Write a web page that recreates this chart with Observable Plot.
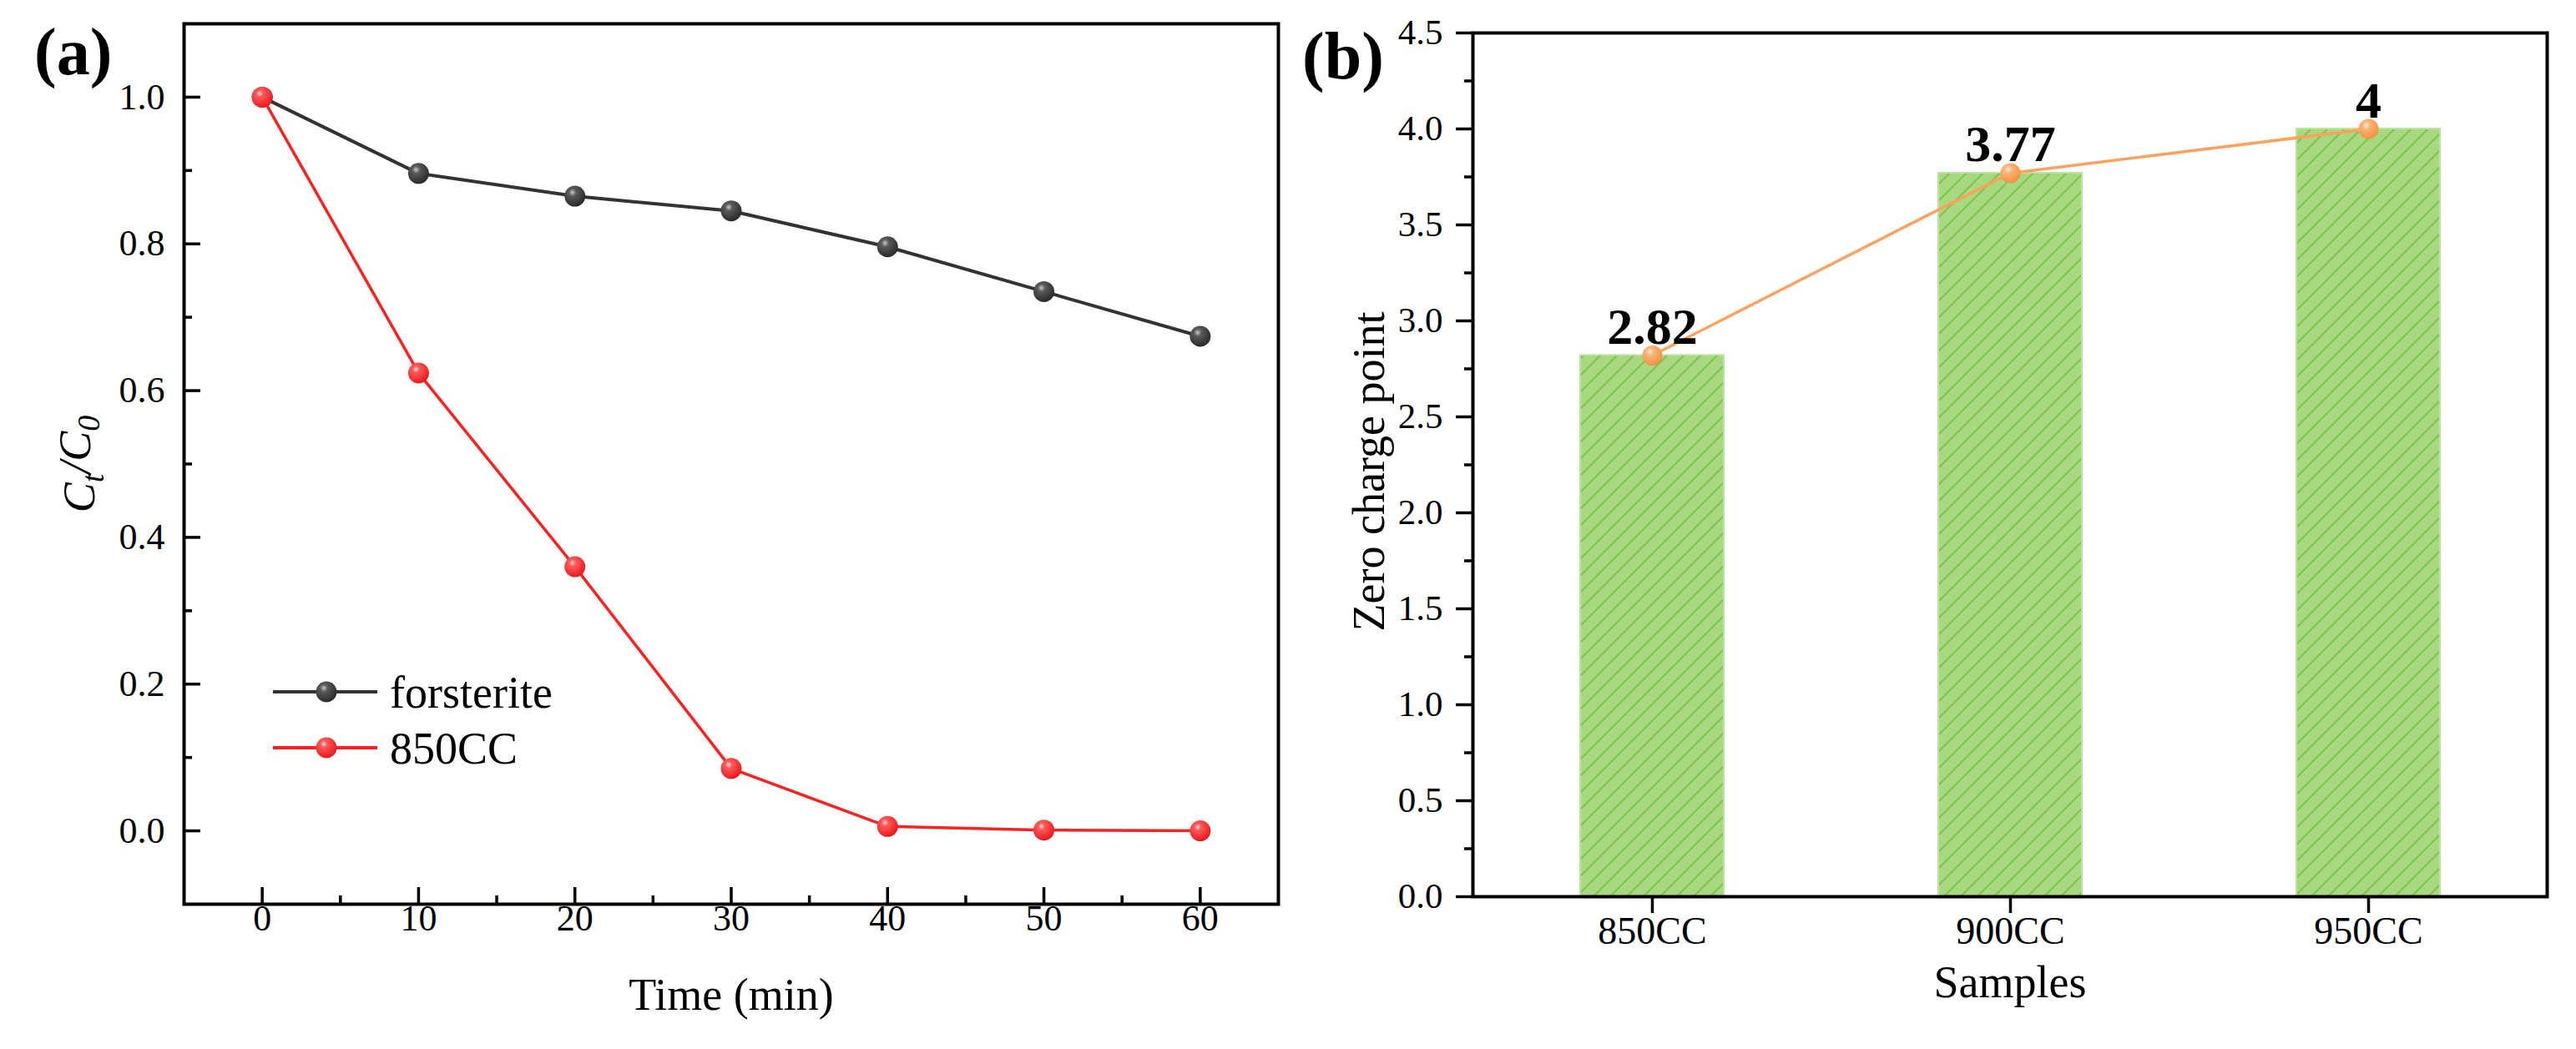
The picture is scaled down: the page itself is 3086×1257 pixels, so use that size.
<!DOCTYPE html>
<html><head><meta charset="utf-8">
<script src="https://cdn.jsdelivr.net/npm/d3@7"></script>
<script src="https://cdn.jsdelivr.net/npm/@observablehq/plot@0.6"></script>
<style>
html,body{margin:0;padding:0;background:#fff;overflow:hidden;width:3086px;height:1257px}
#wrap{position:relative;width:3086px;height:1257px}
.panel{position:absolute;top:0}
.panel svg{display:block}
.tag{position:absolute;font-family:"Liberation Serif","Times New Roman",serif;font-weight:bold;line-height:1;color:#000}
</style></head>
<body>
<svg width="0" height="0" style="position:absolute">
  <defs>
    <radialGradient id="ballRed" cx="0.38" cy="0.32" r="0.72">
      <stop offset="0" stop-color="#ffe0e0"/>
      <stop offset="0.22" stop-color="#ff5a5a"/>
      <stop offset="1" stop-color="#e8141a"/>
    </radialGradient>
    <radialGradient id="ballGray" cx="0.38" cy="0.32" r="0.72">
      <stop offset="0" stop-color="#c8c8c8"/>
      <stop offset="0.25" stop-color="#5a5a5a"/>
      <stop offset="1" stop-color="#262626"/>
    </radialGradient>
    <radialGradient id="ballOrange" cx="0.38" cy="0.32" r="0.72">
      <stop offset="0" stop-color="#fff0e0"/>
      <stop offset="0.25" stop-color="#fbb57a"/>
      <stop offset="1" stop-color="#f38f3c"/>
    </radialGradient>
    <pattern id="hatch" patternUnits="userSpaceOnUse" width="20" height="20">
      <rect width="20" height="20" fill="#a8d880"/>
      <path d="M-5,5 L5,-5 M0,20 L20,0 M15,25 L25,15" stroke="#78c246" stroke-width="1.8"/>
    </pattern>
  </defs>
</svg>
<div id="wrap">
  <div id="pa" class="panel" style="left:0"></div>
  <div id="pb" class="panel" style="left:1543px"></div>
  <div class="tag" style="left:41px;top:22px;font-size:80px">(a)</div>
  <div class="tag" style="left:1560px;top:27px;font-size:80px">(b)</div>
</div>
<script>
// ---------- data ----------
const times = [0, 10, 20, 30, 40, 50, 60];
const forsterite = [1.0, 0.896, 0.865, 0.845, 0.796, 0.735, 0.674];
const cc850 = [1.0, 0.624, 0.360, 0.085, 0.006, 0.001, 0.0];
const seriesNames = ["forsterite", "850CC"];
const xTicksA = [0, 10, 20, 30, 40, 50, 60];
const xMinorA = [5, 15, 25, 35, 45, 55];
const yTicksA = [0.0, 0.2, 0.4, 0.6, 0.8, 1.0];
const yMinorA = [0.1, 0.3, 0.5, 0.7, 0.9];

const samples = ["850CC", "900CC", "950CC"];
const zcp = [2.82, 3.77, 4];
const yTicksB = [0, 0.5, 1.0, 1.5, 2.0, 2.5, 3.0, 3.5, 4.0, 4.5];
const yMinorB = [0.25, 0.75, 1.25, 1.75, 2.25, 2.75, 3.25, 3.75, 4.25];

// ---------- style ----------
const FONT = '"Liberation Serif","Times New Roman",serif';
const W = 1543, H = 1257;
const colGray = "#333333", colRed = "#ff2020", colOrange = "#fba35e";

// ---------- panel a ----------
const A = {ml: 220, mt: 28, mr: 12, mb: 174};
const fwA = W - A.ml - A.mr, fhA = H - A.mt - A.mb;
const plotA = Plot.plot({
  width: W, height: H,
  marginLeft: A.ml, marginTop: A.mt, marginRight: A.mr, marginBottom: A.mb,
  style: {fontFamily: FONT, fontSize: "44px", color: "#000", background: "transparent", overflow: "visible"},
  x: {domain: [-5, 65]},
  y: {domain: [-0.1, 1.1]},
  marks: [
    Plot.tickX(xTicksA, {x: d => d, stroke: "#000", strokeWidth: 3.5, insetTop: fhA - 20}),
    Plot.tickX(xMinorA, {x: d => d, stroke: "#000", strokeWidth: 3.5, insetTop: fhA - 10}),
    Plot.tickY(yTicksA, {y: d => d, stroke: "#000", strokeWidth: 3.5, insetRight: fwA - 20}),
    Plot.tickY(yMinorA, {y: d => d, stroke: "#000", strokeWidth: 3.5, insetRight: fwA - 10}),
    Plot.frame({stroke: "#000", strokeWidth: 4}),
    Plot.axisX({ticks: xTicksA, tickSize: 0, tickPadding: 0, fontSize: 44, label: null}),
    Plot.axisY({ticks: yTicksA, tickSize: 0, tickPadding: 23, fontSize: 44, tickFormat: d3.format(".1f"), label: null}),
    Plot.line(forsterite, {x: (d, i) => times[i], y: d => d, stroke: colGray, strokeWidth: 4}),
    Plot.dot(forsterite, {x: (d, i) => times[i], y: d => d, r: 12.5, fill: "url(#ballGray)", stroke: "none"}),
    Plot.line(cc850, {x: (d, i) => times[i], y: d => d, stroke: colRed, strokeWidth: 3.5}),
    Plot.dot(cc850, {x: (d, i) => times[i], y: d => d, r: 12.5, fill: "url(#ballRed)", stroke: "none"}),
    Plot.text(["Time (min)"], {text: d => d, frameAnchor: "bottom", dy: 126, fontSize: 54}),
    Plot.text(["Ct/C0"], {text: d => d, frameAnchor: "left", textAnchor: "middle", lineAnchor: "middle", rotate: -90, dx: -125, fontSize: 54, fontStyle: "italic"})
  ]
});
document.getElementById("pa").appendChild(plotA);

// subscripts in C_t / C_0
plotA.querySelectorAll("text").forEach(t => {
  if (t.textContent === "Ct/C0") {
    t.textContent = "";
    const parts = [["C", 0, null], ["t", 0.3, "70%"], ["/C", -0.3, null], ["0", 0.3, "70%"]];
    parts.forEach(([s, dy, fs]) => {
      const sp = document.createElementNS("http://www.w3.org/2000/svg", "tspan");
      sp.textContent = s;
      if (dy) sp.setAttribute("dy", dy + "em");
      if (fs) sp.setAttribute("font-size", fs);
      t.appendChild(sp);
    });
  }
});

// legend (panel a)
const legendColors = [colGray, colRed];
const legendBalls = ["url(#ballGray)", "url(#ballRed)"];
const leg = d3.select(plotA).append("g").attr("font-family", FONT).attr("font-size", 54).attr("text-anchor", "start");
seriesNames.forEach((name, i) => {
  const y = 829 + i * 67;
  leg.append("line").attr("x1", 327).attr("x2", 452).attr("y1", y).attr("y2", y)
    .attr("stroke", legendColors[i]).attr("stroke-width", 4);
  leg.append("circle").attr("cx", 391).attr("cy", y).attr("r", 12.5).attr("fill", legendBalls[i]);
  leg.append("text").attr("x", 467).attr("y", y).attr("dy", "0.35em").attr("text-anchor", "start").attr("fill", "#000").text(name);
});

// ---------- panel b ----------
const B = {ml: 221, mt: 39, mr: 35, mb: 183};
const plotB = Plot.plot({
  width: W, height: H,
  marginLeft: B.ml, marginTop: B.mt, marginRight: B.mr, marginBottom: B.mb,
  style: {fontFamily: FONT, fontSize: "44px", color: "#000", background: "transparent", overflow: "visible"},
  x: {domain: samples, paddingInner: 0.6, paddingOuter: 0.3},
  y: {domain: [0, 4.5]},
  marks: [
    Plot.barY(zcp, {x: (d, i) => samples[i], y: d => d, fill: "url(#hatch)", stroke: "#bfe3a3", strokeWidth: 2}),
    Plot.frame({stroke: "#000", strokeWidth: 4}),
    Plot.axisY({ticks: yTicksB, tickSize: 20, tickPadding: 16, strokeWidth: 3.5, fontSize: 43, tickFormat: d3.format(".1f"), label: null}),
    Plot.axisY({ticks: yMinorB, tickSize: 10, strokeWidth: 3.5, tickFormat: () => "", label: null}),
    Plot.axisX({tickSize: 20, tickPadding: 4, strokeWidth: 3.5, fontSize: 46, label: null}),
    Plot.line(zcp, {x: (d, i) => samples[i], y: d => d, stroke: colOrange, strokeWidth: 3.5}),
    Plot.dot(zcp, {x: (d, i) => samples[i], y: d => d, r: 12, fill: "url(#ballOrange)", stroke: "none"}),
    Plot.text(zcp, {x: (d, i) => samples[i], y: d => d, text: d => String(d), dy: -14, lineAnchor: "bottom", fontWeight: "bold", fontSize: 62}),
    Plot.text(["Zero charge point"], {text: d => d, frameAnchor: "left", textAnchor: "middle", lineAnchor: "middle", rotate: -90, dx: -124, dy: 8, fontSize: 54}),
    Plot.text(["Samples"], {text: d => d, frameAnchor: "bottom", dy: 120, fontSize: 54})
  ]
});
document.getElementById("pb").appendChild(plotB);
</script>
</body></html>
